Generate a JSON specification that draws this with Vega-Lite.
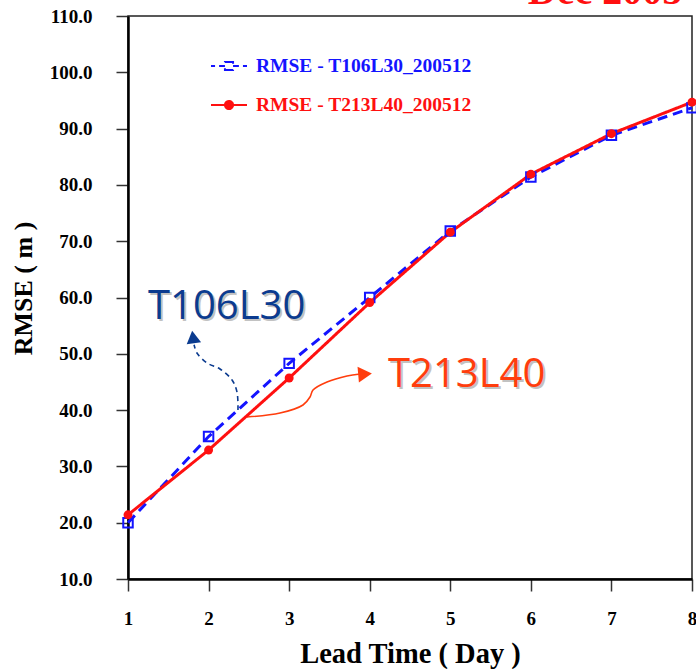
{
  "$schema": "https://vega.github.io/schema/vega-lite/v6.json",
  "width": 564,
  "height": 563,
  "autosize": {"type": "none"},
  "padding": {"left": 128, "top": 16, "right": 4, "bottom": 90},
  "background": "white",
  "config": {
    "view": {"stroke": "#222222", "strokeWidth": 1.5},
    "font": "Liberation Serif",
    "axis": {
      "grid": false,
      "domainColor": "black",
      "domainWidth": 2.5,
      "tickColor": "#333333",
      "tickWidth": 1.5,
      "tickSize": 12,
      "labelFont": "Liberation Serif",
      "labelFontWeight": "bold",
      "labelFontSize": 19,
      "labelColor": "black",
      "labelFlush": false,
      "labelOverlap": false,
      "titleFont": "Liberation Serif",
      "titleFontWeight": "bold",
      "titleColor": "black"
    }
  },
  "datasets": {
    "rmse": [
      {"day": 1, "series": "RMSE - T106L30_200512", "rmse": 20.0},
      {"day": 2, "series": "RMSE - T106L30_200512", "rmse": 35.3},
      {"day": 3, "series": "RMSE - T106L30_200512", "rmse": 48.3},
      {"day": 4, "series": "RMSE - T106L30_200512", "rmse": 60.0},
      {"day": 5, "series": "RMSE - T106L30_200512", "rmse": 71.8},
      {"day": 6, "series": "RMSE - T106L30_200512", "rmse": 81.4},
      {"day": 7, "series": "RMSE - T106L30_200512", "rmse": 88.8},
      {"day": 8, "series": "RMSE - T106L30_200512", "rmse": 93.7},
      {"day": 1, "series": "RMSE - T213L40_200512", "rmse": 21.4},
      {"day": 2, "series": "RMSE - T213L40_200512", "rmse": 32.9},
      {"day": 3, "series": "RMSE - T213L40_200512", "rmse": 45.7},
      {"day": 4, "series": "RMSE - T213L40_200512", "rmse": 59.1},
      {"day": 5, "series": "RMSE - T213L40_200512", "rmse": 71.6},
      {"day": 6, "series": "RMSE - T213L40_200512", "rmse": 81.9},
      {"day": 7, "series": "RMSE - T213L40_200512", "rmse": 89.1},
      {"day": 8, "series": "RMSE - T213L40_200512", "rmse": 94.7}
    ],
    "blueCurve": [
      {"i": 1, "day": 2.365, "v": 40.0},
      {"i": 2, "day": 2.353, "v": 43.2},
      {"i": 3, "day": 2.291, "v": 45.35},
      {"i": 4, "day": 2.142, "v": 47.3},
      {"i": 5, "day": 1.981, "v": 48.37},
      {"i": 6, "day": 1.856, "v": 50.14},
      {"i": 7, "day": 1.82, "v": 51.6}
    ],
    "orangeCurve": [
      {"i": 1, "day": 2.477, "v": 38.77},
      {"i": 2, "day": 2.887, "v": 39.48},
      {"i": 3, "day": 3.172, "v": 40.91},
      {"i": 4, "day": 3.259, "v": 42.33},
      {"i": 5, "day": 3.296, "v": 43.57},
      {"i": 6, "day": 3.47, "v": 44.99},
      {"i": 7, "day": 3.718, "v": 46.06},
      {"i": 8, "day": 3.88, "v": 46.41}
    ],
    "blueNote": [{"day": 1.248, "v": 56.18, "label": "T106L30", "tipDay": 1.807, "tipV": 52.98}],
    "orangeNote": [{"day": 4.227, "v": 44.1, "label": "T213L40", "tipDay": 3.942, "tipV": 46.41}],
    "titleNote": [{"day": 6.92, "v": 112.1, "label": "Dec 2005"}]
  },
  "encoding": {
    "x": {
      "type": "quantitative",
      "scale": {"domain": [1, 8], "nice": false, "zero": false},
      "axis": {"values": [1, 2, 3, 4, 5, 6, 7, 8], "format": "d", "title": "Lead Time ( Day )", "titleFontSize": 28.5, "labelPadding": 18, "titlePadding": 11}
    },
    "y": {
      "type": "quantitative",
      "scale": {"domain": [10, 110], "nice": false, "zero": false},
      "axis": {"values": [10, 20, 30, 40, 50, 60, 70, 80, 90, 100, 110], "format": ".1f", "title": "RMSE ( m )", "titleFontSize": 26, "titleY": 272, "labelPadding": 24, "titlePadding": 13}
    }
  },
  "layer": [
    {
      "data": {"name": "blueCurve"},
      "mark": {"type": "line", "color": "#0b3b8f", "strokeWidth": 1.6, "strokeDash": [5, 4], "interpolate": "catmull-rom"},
      "encoding": {"x": {"field": "day"}, "y": {"field": "v"}, "order": {"field": "i"}}
    },
    {
      "data": {"name": "orangeCurve"},
      "mark": {"type": "line", "color": "#ff3d0d", "strokeWidth": 1.6, "interpolate": "catmull-rom"},
      "encoding": {"x": {"field": "day"}, "y": {"field": "v"}, "order": {"field": "i"}}
    },
    {
      "data": {"name": "blueNote"},
      "mark": {"type": "point", "shape": "triangle-up", "size": 210, "filled": true, "color": "#0b3b8f", "opacity": 1, "angle": -8},
      "encoding": {"x": {"field": "tipDay"}, "y": {"field": "tipV"}}
    },
    {
      "data": {"name": "orangeNote"},
      "mark": {"type": "point", "shape": "triangle-right", "size": 250, "filled": true, "color": "#ff3d0d", "opacity": 1, "angle": -5},
      "encoding": {"x": {"field": "tipDay"}, "y": {"field": "tipV"}}
    },
    {
      "data": {"name": "blueNote"},
      "mark": {"type": "text", "font": "Open Sans", "fontSize": 40, "align": "left", "baseline": "alphabetic", "color": "#9a9a9a", "opacity": 0.6, "dx": 2, "dy": 2},
      "encoding": {"x": {"field": "day"}, "y": {"field": "v"}, "text": {"field": "label"}}
    },
    {
      "data": {"name": "blueNote"},
      "mark": {"type": "text", "font": "Open Sans", "fontSize": 40, "align": "left", "baseline": "alphabetic", "color": "#0b3b8f"},
      "encoding": {"x": {"field": "day"}, "y": {"field": "v"}, "text": {"field": "label"}}
    },
    {
      "data": {"name": "orangeNote"},
      "mark": {"type": "text", "font": "Open Sans", "fontSize": 40, "align": "left", "baseline": "alphabetic", "color": "#9a9a9a", "opacity": 0.6, "dx": 2, "dy": 2},
      "encoding": {"x": {"field": "day"}, "y": {"field": "v"}, "text": {"field": "label"}}
    },
    {
      "data": {"name": "orangeNote"},
      "mark": {"type": "text", "font": "Open Sans", "fontSize": 40, "align": "left", "baseline": "alphabetic", "color": "#ff3d0d"},
      "encoding": {"x": {"field": "day"}, "y": {"field": "v"}, "text": {"field": "label"}}
    },
    {
      "data": {"name": "rmse"},
      "mark": {"type": "line", "strokeWidth": 3},
      "encoding": {
        "x": {"field": "day"},
        "y": {"field": "rmse"},
        "color": {
          "field": "series",
          "type": "nominal",
          "scale": {"domain": ["RMSE - T106L30_200512", "RMSE - T213L40_200512"], "range": ["#1414ff", "#ff1010"]},
          "legend": {
            "title": null,
            "orient": "none",
            "legendX": 91,
            "legendY": 40,
            "padding": 0,
            "symbolSize": 324,
            "symbolStrokeWidth": 2,
            "labelOffset": 17,
            "labelLimit": 0,
            "rowPadding": 19,
            "labelFont": "Liberation Serif",
            "labelFontWeight": "bold",
            "labelFontSize": 19.5,
            "encode": {
              "labels": {"update": {"fill": {"signal": "datum.value === 'RMSE - T106L30_200512' ? '#1414ff' : '#ff1010'"}}},
              "symbols": {"update": {
                "shape": {"signal": "datum.value === 'RMSE - T106L30_200512' ? 'M-2,0H-1.55M-1.1,0H-0.45M0.45,0H1.1M1.55,0H2M-0.45,-0.45H0.45V0.45H-0.45Z' : 'M-2,0H2M-0.45,0A0.45,0.45 0 1,1 0.45,0A0.45,0.45 0 1,1 -0.45,0Z'"},
                "fill": {"signal": "datum.value === 'RMSE - T106L30_200512' ? 'white' : '#ff1010'"},
                "stroke": {"signal": "datum.value === 'RMSE - T106L30_200512' ? '#1414ff' : '#ff1010'"},
                "strokeDash": {"value": []},
                "strokeWidth": {"value": 2},
                "opacity": {"value": 1}
              }}
            }
          }
        },
        "strokeDash": {
          "field": "series",
          "type": "nominal",
          "scale": {"domain": ["RMSE - T106L30_200512", "RMSE - T213L40_200512"], "range": [[10, 6], [1, 0]]},
          "legend": null
        }
      }
    },
    {
      "data": {"name": "rmse"},
      "transform": [{"filter": "datum.series === 'RMSE - T106L30_200512'"}],
      "mark": {"type": "point", "shape": "square", "size": 90, "strokeWidth": 2, "opacity": 1, "filled": false, "color": "#1414ff"},
      "encoding": {"x": {"field": "day"}, "y": {"field": "rmse"}}
    },
    {
      "data": {"name": "rmse"},
      "transform": [{"filter": "datum.series === 'RMSE - T213L40_200512'"}],
      "mark": {"type": "point", "shape": "circle", "size": 80, "opacity": 1, "filled": true, "color": "#ff1010"},
      "encoding": {"x": {"field": "day"}, "y": {"field": "rmse"}}
    },
    {
      "data": {"name": "titleNote"},
      "mark": {"type": "text", "font": "Liberation Serif", "fontWeight": "bold", "fontSize": 40, "align": "center", "baseline": "alphabetic", "color": "#ff1010"},
      "encoding": {"x": {"field": "day"}, "y": {"field": "v"}, "text": {"field": "label"}}
    }
  ]
}
